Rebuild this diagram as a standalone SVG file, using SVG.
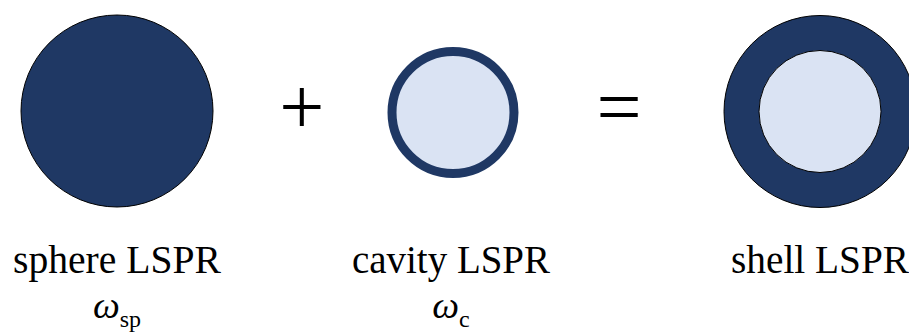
<svg xmlns="http://www.w3.org/2000/svg" width="909" height="333" viewBox="0 0 909 333">
<style>
.dark{fill:#1F3864;stroke:#000;stroke-width:1}
.light{fill:#DAE3F3;stroke:#000;stroke-width:1}
.lbl{font-family:"Liberation Serif","Times New Roman",serif;font-size:39px;fill:#000;text-anchor:middle}
.sym{font-family:"Liberation Serif","Times New Roman",serif;font-size:80px;fill:#000;text-anchor:middle}
.om{font-family:"Liberation Serif","Times New Roman",serif;font-size:38px;fill:#000;text-anchor:middle}
</style>
<rect width="909" height="333" fill="#fff"/>
<g id="sphere">
<circle class="dark" cx="117" cy="111" r="96"/>
<text class="lbl" x="117" y="273" textLength="208" lengthAdjust="spacingAndGlyphs">sphere LSPR</text>
<text class="om" x="117" y="318"><tspan font-style="italic">ω</tspan><tspan font-size="24" dy="9">sp</tspan></text>
</g>
<g id="plus">
<text class="sym" x="301.7" y="134">+</text>
</g>
<g id="cavity">
<circle cx="453" cy="112.5" r="61" fill="#DAE3F3" stroke="#1F3864" stroke-width="9"/>
<text class="lbl" x="451" y="273" textLength="198" lengthAdjust="spacingAndGlyphs">cavity LSPR</text>
<text class="om" x="451" y="318"><tspan font-style="italic">ω</tspan><tspan font-size="24" dy="9">c</tspan></text>
</g>
<g id="equals">
<text class="sym" x="619" y="134">=</text>
</g>
<g id="shell">
<circle class="dark" cx="820" cy="111.5" r="96"/>
<circle class="light" cx="820" cy="111.5" r="61"/>
<text class="lbl" x="820" y="273" textLength="178" lengthAdjust="spacingAndGlyphs">shell LSPR</text>
</g>
<g id="connectors"></g>
</svg>
